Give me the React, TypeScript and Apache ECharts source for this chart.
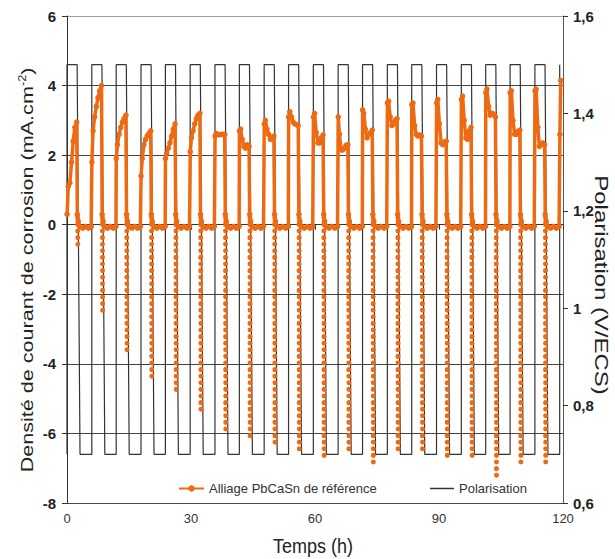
import React, { useEffect, useRef } from "react";
import * as echarts from "echarts";

// ---- Time axis (h) ----
const xMin = 0;
const xMax = 120;
const xInterval = 30;

// ---- Polarisation square wave (V/ECS) ----
const riseTimes = [0, 6.0, 11.9, 17.9, 23.8, 29.8, 35.8, 41.7, 47.7, 53.6, 59.6, 65.6, 71.5, 77.5, 83.4, 89.4, 95.4, 101.3, 107.2, 113.2, 119.2];
const fallStartTimes = [2.45, 8.45, 14.35, 20.35, 26.25, 32.25, 38.25, 44.15, 50.15, 56.05, 62.05, 68.05, 73.95, 79.95, 85.85, 91.85, 97.85, 103.75, 109.65, 115.65];
const fallEndTimes = [3.15, 9.15, 15.05, 21.05, 26.95, 32.95, 38.95, 44.85, 50.85, 56.75, 62.75, 68.75, 74.65, 80.65, 86.55, 92.55, 98.55, 104.45, 110.35, 116.35];
const polHigh = 1.5;
const polLow = 0.7;

// ---- Current density (mA.cm-2), per cycle ----
// anodic part: time offsets after each rise, and values read per cycle
const anodicOffsets = [0.02, 0.3, 0.7, 1.1, 1.5, 1.9, 2.35];
const anodicValues = [
  [0.3, 1.1, 1.2, 1.8, 2.4, 2.8, 2.95],
  [1.8, 2.7, 3.1, 3.4, 3.65, 3.85, 4.0],
  [1.9, 2.3, 2.6, 2.8, 2.95, 3.05, 3.15],
  [1.4, 1.9, 2.3, 2.45, 2.55, 2.62, 2.7],
  [1.9, 2.05, 2.2, 2.35, 2.55, 2.75, 2.9],
  [2.1, 2.5, 2.7, 2.9, 3.05, 3.15, 3.2],
  [2.55, 2.62, 2.6, 2.58, 2.6, 2.6, 2.6],
  [2.7, 2.75, 2.45, 2.25, 2.2, 2.3, 2.25],
  [2.9, 3.0, 2.75, 2.6, 2.45, 2.5, 2.55],
  [3.1, 3.25, 3.1, 2.95, 2.9, 2.88, 2.85],
  [3.1, 3.2, 2.65, 2.35, 2.35, 2.5, 2.58],
  [3.1, 2.6, 2.15, 2.15, 2.2, 2.28, 2.3],
  [3.3, 3.2, 2.75, 2.5, 2.6, 2.65, 2.72],
  [3.5, 3.55, 3.1, 2.85, 2.9, 3.0, 3.05],
  [3.45, 3.5, 2.85, 2.6, 2.55, 2.58, 2.55],
  [3.5, 3.6, 2.9, 2.35, 2.3, 2.38, 2.4],
  [3.6, 3.7, 3.0, 2.5, 2.45, 2.7, 2.8],
  [3.8, 3.9, 3.4, 3.15, 3.2, 3.18, 3.1],
  [3.8, 3.85, 3.0, 2.6, 2.6, 2.68, 2.72],
  [3.85, 3.9, 2.8, 2.25, 2.3, 2.35, 2.3],
];
const dropOffset = 2.5;
const dropValue = 0.3;
// cathodic peaks (minimum of each negative spike)
const spikeOffsets = [2.56, 2.62];
const spikeTop = 0.2;
const spikeMins = [-0.63, -2.5, -3.69, -4.36, -4.84, -5.42, -5.9, -6.18, -6.28, -6.61, -6.71, -6.57, -6.9, -6.61, -6.57, -6.81, -6.76, -7.24, -7.0, -6.95];
// rest at low potential
const restOffsets = [2.72, 3.1, 3.8, 4.5, 5.2, 5.85];
const restValues = [0.1, -0.05, -0.1, -0.05, -0.1, -0.05];
// last rise at the end of the record
const finalOffsets = [0.05, 0.25];
const finalValues = [2.6, 4.15];

const ORANGE = "#EE6A12";
const FONT = "Liberation Sans, Arial, sans-serif";

function buildCurrent(): number[][] {
  const pts: number[][] = [];
  for (let k = 0; k < anodicValues.length; k++) {
    const r = riseTimes[k];
    anodicOffsets.forEach((o, i) => pts.push([r + o, anodicValues[k][i]]));
    pts.push([r + dropOffset, dropValue]);
    restOffsets.forEach((o, i) => pts.push([r + o, restValues[i]]));
  }
  const rLast = riseTimes[riseTimes.length - 1];
  finalOffsets.forEach((o, i) => pts.push([rLast + o, finalValues[i]]));
  return pts;
}

function buildSpikes(): (number | null)[][] {
  const pts: (number | null)[][] = [];
  for (let k = 0; k < spikeMins.length; k++) {
    const r = riseTimes[k];
    pts.push([r + spikeOffsets[0], spikeTop]);
    pts.push([r + spikeOffsets[1], spikeMins[k]]);
    pts.push([r + spikeOffsets[1], null]);
  }
  return pts;
}

function buildPolarisation(): number[][] {
  const pts: number[][] = [];
  for (let k = 0; k < fallStartTimes.length; k++) {
    pts.push([riseTimes[k], polLow]);
    pts.push([riseTimes[k], polHigh]);
    pts.push([fallStartTimes[k], polHigh]);
    pts.push([fallEndTimes[k], polLow]);
  }
  const rLast = riseTimes[riseTimes.length - 1];
  pts.push([rLast, polLow]);
  pts.push([rLast, polHigh]);
  return pts;
}

export default function App() {
  const ref = useRef<HTMLDivElement>(null);
  useEffect(() => {
    if (!ref.current) return;
    const chart = echarts.init(ref.current, undefined, { renderer: "svg" });
    const gridColors = ["#444", "#444", "#444", "#444", "#444", "#444", "#444", "#a0a0a0"];
    chart.setOption({
      animation: false,
      backgroundColor: "#ffffff",
      textStyle: { fontFamily: FONT },
      grid: { left: 67, right: 52, top: 16, bottom: 56, containLabel: false },
      legend: [
        {
          data: ["Alliage PbCaSn de référence"],
          left: 173,
          top: 477,
          itemWidth: 25,
          itemHeight: 8,
          itemGap: 4,
          textStyle: { fontSize: 13, color: "#333", fontFamily: FONT },
        },
        {
          data: [{ name: "Polarisation", icon: "rect" }],
          left: 425,
          top: 477,
          itemWidth: 24,
          itemHeight: 1.5,
          textStyle: { fontSize: 13, color: "#333", fontFamily: FONT },
        },
      ],
      xAxis: {
        type: "value",
        min: xMin,
        max: xMax,
        interval: xInterval,
        axisLine: { show: true, lineStyle: { color: "#333", width: 1 } },
        axisTick: { show: true, inside: false, length: 5, lineStyle: { color: "#333" } },
        axisLabel: { fontSize: 13, color: "#333", margin: 9, fontFamily: FONT },
        splitLine: { show: false },
      },
      yAxis: [
        {
          type: "value",
          min: -8,
          max: 6,
          interval: 2,
          position: "left",
          axisLine: { show: true, lineStyle: { color: "#333", width: 1 } },
          axisTick: { show: true, inside: false, length: 5, lineStyle: { color: "#333" } },
          axisLabel: { fontSize: 15, fontWeight: "bold", color: "#222", margin: 11, fontFamily: FONT },
          splitLine: { show: true, lineStyle: { color: gridColors, width: 1 } },
        },
        {
          type: "value",
          min: 0.6,
          max: 1.6,
          interval: 0.2,
          position: "right",
          axisLine: { show: true, lineStyle: { color: "#555", width: 1 } },
          axisTick: { show: true, inside: false, length: 5, lineStyle: { color: "#333" } },
          axisLabel: {
            fontSize: 15,
            fontWeight: "bold",
            color: "#222",
            margin: 10,
            fontFamily: FONT,
            formatter: (v: number) => String(Math.round(v * 10) / 10).replace(".", ","),
          },
          splitLine: { show: false },
        },
      ],
      graphic: [
        {
          type: "text",
          x: 27,
          y: 270,
          rotation: Math.PI / 2,
          scaleX: 1.27,
          style: {
            text: "{a|Densité de courant de corrosion (mA.cm}{s|-2}{a|)}",
            fill: "#222",
            align: "center",
            verticalAlign: "middle",
            textAlign: "center",
            textVerticalAlign: "middle",
            fontFamily: FONT,
            fontSize: 17,
            rich: {
              a: { fontSize: 17, fontFamily: FONT, fill: "#222", color: "#222", lineHeight: 20 },
              s: { fontSize: 10, fontFamily: FONT, fill: "#222", color: "#222", verticalAlign: "top", lineHeight: 20 },
            },
          },
        },
        {
          type: "text",
          x: 601,
          y: 285,
          rotation: -Math.PI / 2,
          scaleX: 1.33,
          style: {
            text: "Polarisation (V/ECS)",
            fill: "#222",
            align: "center",
            verticalAlign: "middle",
            textAlign: "center",
            textVerticalAlign: "middle",
            fontFamily: FONT,
            fontSize: 18,
          },
        },
        {
          type: "text",
          x: 313,
          y: 546,
          scaleY: 1.15,
          style: {
            text: "Temps (h)",
            fill: "#222",
            align: "center",
            verticalAlign: "middle",
            textAlign: "center",
            textVerticalAlign: "middle",
            fontFamily: FONT,
            fontSize: 18,
          },
        },
      ],
      series: [
        {
          name: "Polarisation",
          type: "line",
          yAxisIndex: 1,
          data: buildPolarisation(),
          symbol: "none",
          showSymbol: false,
          lineStyle: { color: "#333", width: 1.2 },
          itemStyle: { color: "#333" },
          z: 2,
        },
        {
          name: "spikes",
          type: "line",
          yAxisIndex: 0,
          data: buildSpikes(),
          symbol: "none",
          showSymbol: false,
          connectNulls: false,
          lineStyle: { color: ORANGE, width: 5, type: [0.1, 6.5], cap: "round" },
          z: 3,
        },
        {
          name: "Alliage PbCaSn de référence",
          type: "line",
          yAxisIndex: 0,
          data: buildCurrent(),
          symbol: "circle",
          symbolSize: 5.5,
          showSymbol: true,
          lineStyle: { color: ORANGE, width: 3.5 },
          itemStyle: { color: ORANGE },
          z: 4,
        },
      ],
    });
    return () => chart.dispose();
  }, []);
  return (
    <div
      ref={ref}
      style={{ position: "fixed", left: 0, top: 0, width: 615, height: 559, background: "#fff" }}
    />
  );
}
